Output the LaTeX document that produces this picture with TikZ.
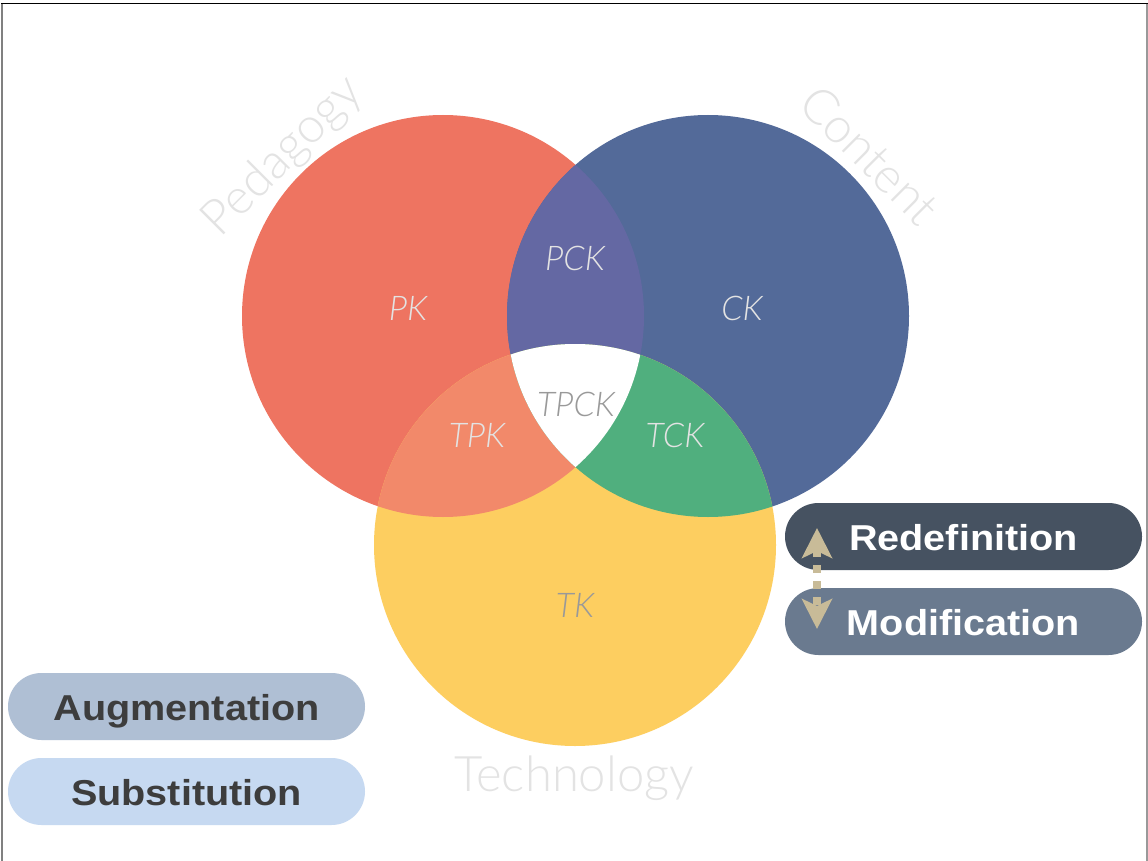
\documentclass[tikz,border=0pt]{standalone}
\usepackage{fontspec}
\usetikzlibrary{arrows.meta}
\newfontfamily\lightfont{Lato}[UprightFont=* Light, ItalicFont=* Light Italic]
\newfontfamily\boxfont{Liberation Sans}[FakeStretch=1.1]
\definecolor{cred}{HTML}{EE7461}
\definecolor{cblue}{HTML}{536A99}
\definecolor{cyellow}{HTML}{FDCE60}
\definecolor{cpurple}{HTML}{6468A3}
\definecolor{corange}{HTML}{F2896A}
\definecolor{cgreen}{HTML}{50AF7E}
\definecolor{labl}{HTML}{E3E3E3}
\definecolor{labd}{HTML}{999999}
\definecolor{bigl}{HTML}{E3E3E3}
\definecolor{redef}{HTML}{465261}
\definecolor{modif}{HTML}{6A7A8F}
\definecolor{augm}{HTML}{AFBFD4}
\definecolor{subst}{HTML}{C6D9F1}
\definecolor{darktext}{HTML}{3D3D3D}
\definecolor{tan}{HTML}{C8BB98}
\tikzset{
  lab/.style={anchor=base, inner sep=0pt, font=\lightfont\itshape\fontsize{34}{38}\selectfont},
  biglab/.style={inner sep=0pt, text=bigl, font=\lightfont\fontsize{49}{53}\selectfont},
  pill/.style={minimum width=357pt, minimum height=67pt, rounded corners=33.5pt, inner sep=0pt,
    text height=28pt, text depth=0pt, font=\boxfont\bfseries\fontsize{36}{40}\selectfont},
  dblarrow/.style={draw=tan, line width=8pt, dash pattern=on 8pt off 8pt,
    {Stealth[length=30pt, width=30pt, inset=7pt]}-{Stealth[length=30pt, width=30pt, inset=7pt]}}
}
\begin{document}
\begin{tikzpicture}[x=1pt,y=-1pt]
\useasboundingbox (0,0) rectangle (1148,861);
\fill[white] (0,0) rectangle (1148,861);
% frame
\draw[gray, line width=2pt] (1.5,3) -- (1.5,861);
\draw[gray!80, line width=1.2pt] (1147,3) -- (1147,861);
\draw[black, line width=1.2pt] (1,3.5) -- (1148,3.5);
% circles
\coordinate (P) at (443,316);
\coordinate (C) at (708,316);
\coordinate (T) at (575,545);
\fill[cred] (P) circle[radius=201pt];
\fill[cblue] (C) circle[radius=201pt];
\fill[cyellow] (T) circle[radius=201pt];
\begin{scope}
  \clip (P) circle[radius=201pt];
  \fill[cpurple] (C) circle[radius=201pt];
  \fill[corange] (T) circle[radius=201pt];
\end{scope}
\begin{scope}
  \clip (C) circle[radius=201pt];
  \fill[cgreen] (T) circle[radius=201pt];
  \clip (P) circle[radius=201pt];
  \fill[white] (T) circle[radius=201pt];
\end{scope}
% region labels
\node[lab, text=labl] (pk) at (408,320) {PK};
\node[lab, text=labl] (ck) at (742,320) {CK};
\node[lab, text=labl] (pck) at (575,270) {PCK};
\node[lab, text=labd] (tpck) at (576,416) {TPCK};
\node[lab, text=labl] (tpk) at (477,447) {TPK};
\node[lab, text=labl] (tck) at (675,447) {TCK};
\node[lab, text=labd] (tk) at (575,617) {TK};
% big labels
\node[biglab, rotate=45] (ped) at (283,157) {Pedagogy};
\node[biglab, rotate=-45] (con) at (870,155) {Content};
\node[biglab, anchor=base] (tech) at (574,791) {Technology};
% SAMR pills
\node[pill, fill=redef, text=white] (redef) at (963.5,536.5) {Redefinition};
\node[pill, fill=modif, text=white] (modif) at (963.5,621.5) {Modification};
\node[pill, fill=augm, text=darktext] (augm) at (186.5,706.5) {Augmentation};
\node[pill, fill=subst, text=darktext] (subst) at (186.5,791.5) {Substitution};
% arrow
\coordinate (au) at (817,528);
\coordinate (ad) at (817,629);
\draw[dblarrow] (au) -- (ad);
\end{tikzpicture}
\end{document}
